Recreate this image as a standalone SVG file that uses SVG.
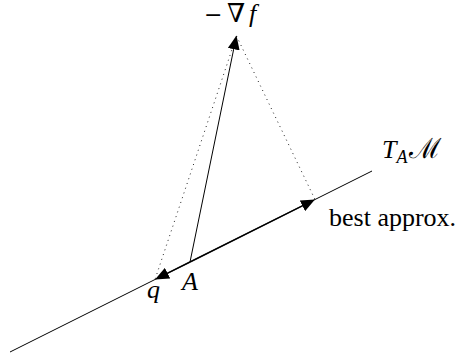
<svg xmlns="http://www.w3.org/2000/svg" width="470" height="358" viewBox="0 0 470 358">
  <style>
    .lbl { font-family: "Liberation Serif", "DejaVu Serif", serif; font-size: 26px; fill: #000; }
    .it { font-style: italic; }
    .thin { stroke: #000; stroke-width: 1; fill: none; }
    .vec { stroke: #000; stroke-width: 1.4; fill: none; }
    .dot { stroke: #222; stroke-width: 1; fill: none; stroke-dasharray: 1 4; }
  </style>
  <defs>
    <marker id="arr" viewBox="0 0 14 12" refX="6" refY="6" markerWidth="14" markerHeight="12" markerUnits="userSpaceOnUse" orient="auto">
      <path d="M0,0 L14,6 L0,12 Z" fill="#000"/>
    </marker>
  </defs>
  <g id="connectors">
    <line id="tangent" class="thin" x1="10" y1="352" x2="372" y2="171"/>
    <line id="proj-q" class="dot" x1="236.5" y1="36" x2="155" y2="279.5"/>
    <line id="proj-best" class="dot" x1="236.5" y1="36" x2="315" y2="199.5"/>
    <line id="grad" class="thin" x1="190" y1="262" x2="234.9" y2="43.3" marker-end="url(#arr)"/>
    <line id="to-best" class="vec" x1="190" y1="262" x2="307.8" y2="203.1" marker-end="url(#arr)"/>
    <line id="to-q" class="vec" x1="190" y1="262" x2="162.2" y2="275.9" marker-end="url(#arr)"/>
  </g>
  <g id="node-grad">
    <text class="lbl" y="22"><tspan x="204" font-family="DejaVu Serif, serif" font-size="22">−</tspan><tspan x="227">∇</tspan><tspan x="249" class="it">f</tspan></text>
  </g>
  <g id="node-tangent">
    <text class="lbl" x="382" y="158"><tspan class="it">T</tspan><tspan class="it" font-size="18" dy="5">A</tspan><tspan dy="-5" dx="2" font-size="28">ℳ</tspan></text>
  </g>
  <g id="node-best">
    <text class="lbl" x="329" y="226">best approx.</text>
  </g>
  <g id="node-q">
    <text class="lbl it" x="147" y="298">q</text>
  </g>
  <g id="node-A">
    <text class="lbl it" x="182" y="290">A</text>
  </g>
</svg>
